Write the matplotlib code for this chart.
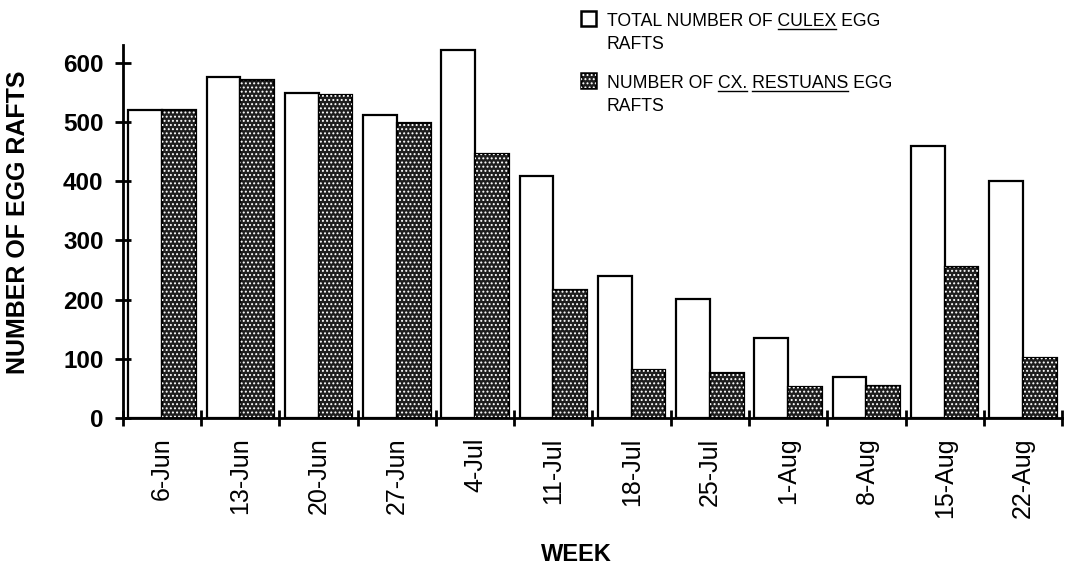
import numpy as np
import matplotlib.pyplot as plt
from matplotlib.patches import Rectangle
from matplotlib.lines import Line2D

plt.rcParams['font.family'] = ['Liberation Sans', 'DejaVu Sans']
plt.rcParams['hatch.linewidth'] = 0.9

# dados
semanas = ['6-Jun', '13-Jun', '20-Jun', '27-Jun', '4-Jul', '11-Jul',
           '18-Jul', '25-Jul', '1-Aug', '8-Aug', '15-Aug', '22-Aug']
total_culex = [520, 576, 549, 512, 622, 409, 240, 201, 135, 69, 459, 400]
cx_restuans = [520, 571, 545, 498, 446, 216, 81, 76, 52, 54, 255, 101]

x = np.arange(len(semanas))
w = 0.43
escuro = '#1e1e1e'

fig = plt.figure(figsize=(10.76, 5.74), dpi=100)
ax = fig.add_axes([0.1143, 0.2718, 0.8727, 0.6498])

ax.bar(x - w / 2, total_culex, w, color='white', edgecolor='black', linewidth=1.6)
ax.bar(x + w / 2, cx_restuans, w, color=escuro, edgecolor='black', linewidth=1.6)
ax.bar(x + w / 2, cx_restuans, w, fill=False, hatch='....', edgecolor='white', linewidth=0)

# eixos
ax.set_xlim(-0.5, len(semanas) - 0.5)
ax.set_ylim(0, 630)
for lado in ['top', 'right']:
    ax.spines[lado].set_visible(False)
for lado in ['left', 'bottom']:
    ax.spines[lado].set_linewidth(2)

ax.set_yticks([0, 100, 200, 300, 400, 500, 600])
ax.tick_params(axis='y', direction='inout', length=12, width=2, labelsize=17.5, pad=8)
for t in ax.get_yticklabels():
    t.set_fontweight('bold')

ax.set_xticks(x)
ax.set_xticklabels(semanas, rotation=90, fontsize=18)
ax.set_xticks(np.arange(-0.5, len(semanas), 1), minor=True)
ax.tick_params(axis='x', which='major', length=0, pad=14)
ax.tick_params(axis='x', which='minor', direction='inout', length=12, width=2)

ax.set_ylabel('NUMBER OF EGG RAFTS', fontsize=18, fontweight='bold')
ax.yaxis.set_label_coords(-0.099, 0.525)
fig.text(0.536, 0.022, 'WEEK', fontsize=17, fontweight='bold', ha='center')

# legenda feita à mão (com palavras sublinhadas)
renderer = fig.canvas.get_renderer()
W, H = fig.bbox.width, fig.bbox.height
fs_leg = 12.7


def escreve(xp, yp, texto, sublinhar):
    t = fig.text(xp / W, 1 - yp / H, texto, fontsize=fs_leg, va='baseline')
    for palavra in sublinhar:
        i = texto.index(palavra)
        a = fig.text(0, 0, texto[:i], fontsize=fs_leg)
        b = fig.text(0, 0, texto[:i + len(palavra)], fontsize=fs_leg)
        x0 = xp + (a.get_window_extent(renderer).width if i > 0 else 0)
        x1 = xp + b.get_window_extent(renderer).width
        a.remove()
        b.remove()
        fig.add_artist(Line2D([x0 / W, x1 / W], [1 - (yp + 3) / H] * 2,
                              transform=fig.transFigure, color='black', lw=1))
    return t


fig.add_artist(Rectangle((581 / W, 1 - 26 / H), 15 / W, 15 / H, transform=fig.transFigure,
                         facecolor='white', edgecolor='black', lw=1.8))
escreve(607, 26, 'TOTAL NUMBER OF CULEX EGG', ['CULEX'])
escreve(607, 49, 'RAFTS', [])

fig.add_artist(Rectangle((581 / W, 1 - 88 / H), 15 / W, 15 / H, transform=fig.transFigure,
                         facecolor=escuro, edgecolor='black', lw=1.8))
fig.add_artist(Rectangle((581 / W, 1 - 88 / H), 15 / W, 15 / H, transform=fig.transFigure,
                         fill=False, hatch='....', edgecolor='white', lw=0))
escreve(607, 88, 'NUMBER OF CX. RESTUANS EGG', ['CX.', 'RESTUANS'])
escreve(607, 111, 'RAFTS', [])

fig.savefig('out.png', dpi=100)
